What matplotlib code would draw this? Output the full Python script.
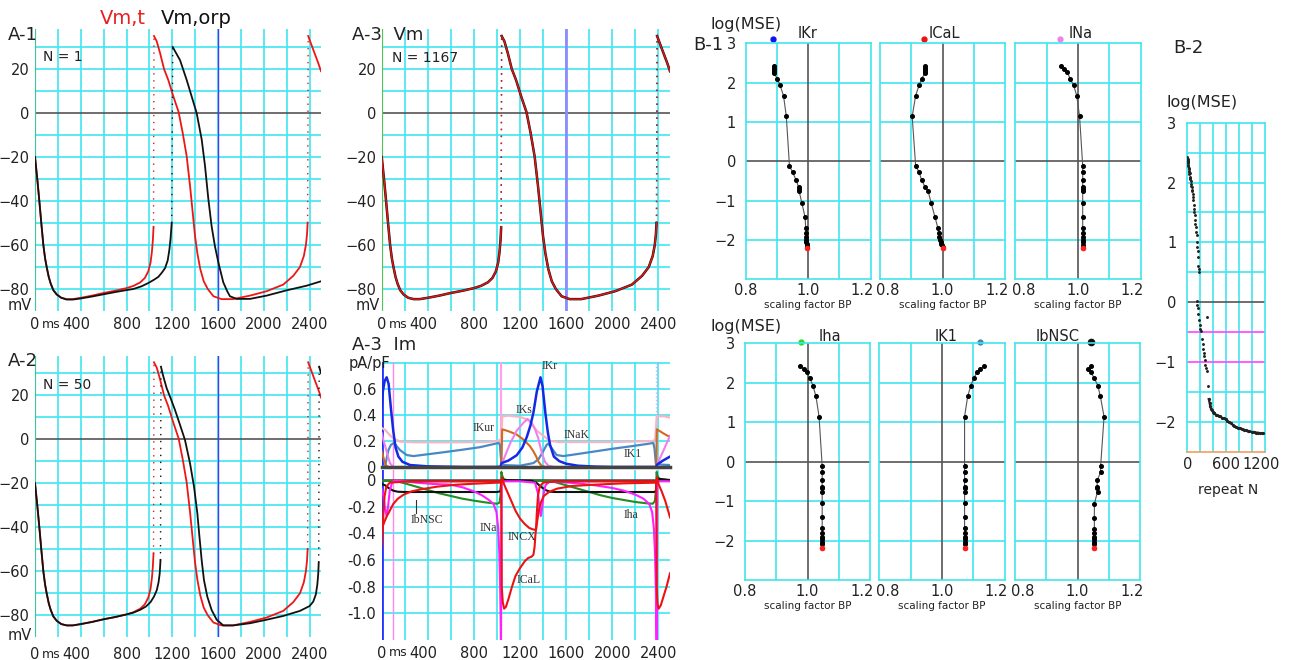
import matplotlib
matplotlib.use('Agg')
import matplotlib.pyplot as plt

plt.rcParams['font.family'] = ['DejaVu Sans']

# ---------------- A: membrane potential (ms, mV) ----------------
# target Vm,t (red) - same trace in A-1, A-2, A-3; pieces split at the upstrokes
vt_t1 = [0, 10, 20, 38, 55, 73, 88, 102, 120, 137, 160, 190, 230, 277, 330, 400, 500, 600, 700, 800, 860, 920, 960, 990, 1010, 1022, 1030, 1036]
vt_v1 = [-20, -25, -30, -40, -50, -60, -66, -70, -74.5, -77.5, -80.5, -82.5, -84, -84.6, -84.6, -84, -83, -81.8, -80.8, -79.6, -78.6, -77, -75, -72, -68, -63, -58, -52]
vt_t2 = [1040, 1064, 1093, 1128, 1165, 1209, 1255, 1291, 1326, 1355, 1378, 1399, 1420, 1445, 1475, 1510, 1560, 1630, 1730, 1880, 2025, 2170, 2258, 2316, 2350, 2368, 2378, 2383]
vt_v2 = [35, 32.6, 27.3, 20, 15, 7.6, 0.5, -9, -19.7, -33, -45, -56, -64, -71, -76.5, -80, -83.3, -84.6, -84.6, -83, -81, -78, -74, -70, -65, -60, -55, -50]
vt_t3 = [2388, 2432, 2476, 2500]
vt_v3 = [35, 28.8, 22.7, 19]

# model Vm,orp after N = 1 (black)
o1_t1 = [0, 10, 20, 38, 55, 73, 88, 102, 120, 137, 160, 190, 230, 277, 330, 400, 500, 600, 700, 800, 860, 930, 990, 1040, 1078, 1110, 1137, 1160, 1175, 1185, 1195]
o1_v1 = [-20, -25, -30, -40, -50, -60, -66, -70, -74.5, -77.5, -80.5, -82.5, -84, -84.8, -84.8, -84.3, -83.4, -82.4, -81.4, -80.5, -80, -78.8, -77.3, -75.8, -74.5, -72.5, -70.5, -67, -62, -57, -50]
o1_t2 = [1204, 1225, 1268, 1326, 1369, 1413, 1457, 1486, 1515, 1544, 1573, 1603, 1646, 1680, 1704, 1763, 1879, 2025, 2200, 2374, 2500]
o1_v2 = [30, 28, 24, 15, 7.6, 0, -12, -24, -39, -51.5, -60.6, -68, -77, -81, -83.3, -84.5, -84.5, -83, -80.6, -78.5, -76.5]

# model Vm,orp after N = 50 (black)
o50_t1 = [0, 10, 20, 38, 55, 73, 88, 102, 120, 137, 160, 190, 230, 277, 330, 400, 500, 600, 700, 800, 860, 920, 970, 1010, 1040, 1065, 1080, 1090, 1097]
o50_v1 = [-20, -25, -30, -40, -50, -60, -66, -70, -74.5, -77.5, -80.5, -82.5, -84, -84.6, -84.6, -84, -83, -81.8, -80.8, -79.6, -78.8, -77.5, -76, -74, -71.5, -68.5, -65, -61, -55]
o50_t2 = [1101, 1122, 1151, 1186, 1224, 1268, 1311, 1355, 1390, 1419, 1437, 1457, 1477, 1506, 1544, 1588, 1646, 1734, 1880, 2025, 2170, 2316, 2400, 2432, 2455, 2468, 2476, 2480]
o50_v2 = [33, 28.5, 23.2, 18.6, 13.3, 6.5, -0.3, -10.9, -21.5, -33.6, -44, -55, -64, -71.5, -77.6, -82, -84.6, -84.6, -83.6, -82, -80.3, -78, -75.8, -73.8, -70.5, -66, -61, -56]
o50_t3 = [2484, 2500]
o50_v3 = [33, 30]

# ---------------- A-3 Im: membrane currents (ms, pA/pF) ----------------
ikr_t = [0, 10, 25, 43, 60, 80, 100, 120, 145, 180, 246, 400, 700, 1030, 1040, 1100, 1170, 1220, 1258, 1290, 1316, 1345, 1377, 1395, 1420, 1440, 1460, 1493, 1540, 1600, 1700, 1850, 2000, 2378, 2390, 2440, 2500]
ikr_i = [0.46, 0.58, 0.66, 0.69, 0.64, 0.45, 0.28, 0.15, 0.08, 0.04, 0.015, 0.005, 0.0, 0.0, 0.03, 0.05, 0.09, 0.15, 0.23, 0.32, 0.42, 0.58, 0.69, 0.62, 0.41, 0.27, 0.17, 0.08, 0.045, 0.025, 0.01, 0.003, 0.0, 0.0, 0.02, 0.05, 0.08]
ik1_t = [0, 30, 58, 80, 107, 130, 159, 217, 275, 400, 550, 700, 850, 1014, 1025, 1033, 1040, 1200, 1315, 1360, 1400, 1430, 1445, 1470, 1517, 1575, 1700, 1850, 2000, 2150, 2300, 2356, 2366, 2378, 2500]
ik1_i = [0.0, 0.01, 0.13, 0.17, 0.185, 0.16, 0.13, 0.092, 0.084, 0.098, 0.115, 0.133, 0.152, 0.185, 0.17, 0.08, 0.015, 0.01, 0.03, 0.06, 0.12, 0.17, 0.18, 0.15, 0.092, 0.084, 0.1, 0.12, 0.14, 0.158, 0.177, 0.185, 0.14, 0.02, 0.015]
inak_t = [0, 30, 58, 100, 159, 300, 600, 900, 1010, 1035, 1046, 1100, 1202, 1250, 1290, 1344, 1402, 1459, 1550, 2000, 2356, 2372, 2385, 2450, 2500]
inak_i = [0.3, 0.285, 0.257, 0.22, 0.195, 0.19, 0.19, 0.192, 0.2, 0.215, 0.39, 0.395, 0.385, 0.37, 0.345, 0.28, 0.24, 0.2, 0.192, 0.192, 0.2, 0.215, 0.39, 0.39, 0.38]
iks_t = [0, 14, 30, 43, 58, 72, 100, 1000, 1040, 1055, 1113, 1171, 1229, 1265, 1300, 1330, 1358, 1388, 1416, 1445, 1500, 2380, 2399, 2450, 2500]
iks_i = [0.26, 0.21, 0.16, 0.12, 0.07, 0.03, 0.0, 0.0, 0.01, 0.053, 0.18, 0.28, 0.34, 0.37, 0.34, 0.29, 0.22, 0.11, 0.04, 0.01, 0.0, 0.0, 0.04, 0.14, 0.24]
ikur_t = [0, 10, 25, 40, 60, 1038, 1045, 1100, 1170, 1230, 1286, 1316, 1340, 1360, 1385, 1420, 2380, 2386, 2440, 2500]
ikur_i = [0.12, 0.09, 0.04, 0.01, 0.0, 0.0, 0.29, 0.275, 0.25, 0.21, 0.16, 0.12, 0.08, 0.04, 0.01, 0.0, 0.0, 0.29, 0.26, 0.23]

ical_t = [0, 8, 15, 25, 40, 70, 200, 1037, 1041, 1050, 1062, 1078, 1100, 1130, 1160, 1200, 1240, 1270, 1300, 1316, 1326, 1332, 1338, 1345, 1355, 1370, 1400, 1500, 2380, 2384, 2392, 2402, 2420, 2445, 2470, 2500]
ical_i = [-0.49, -0.38, -0.25, -0.12, -0.05, -0.02, -0.012, -0.01, -0.8, -0.92, -0.965, -0.95, -0.89, -0.8, -0.72, -0.66, -0.61, -0.585, -0.575, -0.56, -0.5, -0.42, -0.37, -0.25, -0.12, -0.05, -0.02, -0.012, -0.01, -0.8, -0.93, -0.965, -0.94, -0.87, -0.8, -0.7]
incx_t = [0, 12, 25, 45, 70, 100, 140, 190, 260, 340, 480, 650, 800, 1000, 1037, 1045, 1060, 1090, 1120, 1160, 1200, 1240, 1280, 1310, 1338, 1350, 1362, 1380, 1405, 1450, 1520, 1650, 1850, 2100, 2382, 2388, 2400, 2430, 2460, 2500]
incx_i = [-0.37, -0.34, -0.31, -0.27, -0.23, -0.18, -0.14, -0.11, -0.085, -0.07, -0.05, -0.035, -0.028, -0.02, -0.02, 0.02, -0.03, -0.09, -0.15, -0.23, -0.29, -0.33, -0.36, -0.37, -0.375, -0.3, -0.23, -0.17, -0.12, -0.09, -0.065, -0.045, -0.035, -0.025, -0.02, 0.02, -0.03, -0.09, -0.16, -0.28]
ina_t = [0, 15, 30, 43, 55, 70, 90, 110, 200, 300, 450, 600, 700, 800, 870, 930, 970, 995, 1010, 1020, 1028, 1034, 1040, 1200, 1330, 1355, 1370, 1380, 1392, 1405, 1420, 1450, 1550, 1700, 1850, 2000, 2100, 2200, 2270, 2320, 2345, 2360, 2370, 2378, 2384, 2390, 2500]
ina_i = [-0.07, -0.12, -0.22, -0.27, -0.2, -0.08, -0.02, -0.005, -0.01, -0.02, -0.03, -0.035, -0.055, -0.085, -0.115, -0.15, -0.18, -0.24, -0.36, -0.55, -0.85, -1.2, -0.01, -0.01, -0.02, -0.1, -0.22, -0.27, -0.2, -0.1, -0.04, -0.015, -0.015, -0.025, -0.04, -0.06, -0.08, -0.11, -0.14, -0.18, -0.24, -0.36, -0.55, -0.85, -1.2, -0.01, -0.01]
iha_t = [0, 120, 200, 300, 400, 500, 600, 700, 800, 900, 1000, 1022, 1032, 1038, 1046, 1060, 1100, 1440, 1500, 1600, 1700, 1800, 1900, 2000, 2100, 2200, 2300, 2350, 2368, 2378, 2384, 2392, 2410, 2500]
iha_i = [-0.005, -0.008, -0.025, -0.05, -0.075, -0.1, -0.12, -0.14, -0.155, -0.168, -0.178, -0.17, -0.1, 0.06, 0.03, 0.005, -0.003, -0.005, -0.015, -0.04, -0.065, -0.09, -0.115, -0.135, -0.15, -0.165, -0.175, -0.178, -0.16, -0.08, 0.06, 0.03, 0.005, -0.003]
ibnsc_t = [0, 30, 60, 100, 140, 200, 1000, 1030, 1037, 1045, 1060, 1300, 1340, 1380, 1420, 1460, 1500, 2360, 2378, 2385, 2395, 2500]
ibnsc_i = [-0.03, -0.04, -0.06, -0.08, -0.088, -0.09, -0.09, -0.085, -0.01, 0.01, 0.0, -0.005, -0.02, -0.05, -0.075, -0.088, -0.09, -0.09, -0.085, -0.01, 0.01, 0.0]

# ---------------- B-1: scaling factor vs log(MSE) ----------------
ikr_sf = [0.889, 0.889, 0.889, 0.889, 0.891, 0.901, 0.910, 0.921, 0.930, 0.940, 0.950, 0.961, 0.969, 0.970, 0.971, 0.980, 0.990, 0.992, 0.993, 0.993, 0.994, 0.994, 0.995, 0.995, 0.995]
ikr_mse = [2.43, 2.38, 2.33, 2.28, 2.24, 2.10, 1.93, 1.67, 1.14, -0.11, -0.28, -0.47, -0.65, -0.70, -0.76, -1.07, -1.42, -1.69, -1.83, -1.92, -2.0, -2.05, -2.1, -2.15, -2.21]
ical_sf = [0.945, 0.945, 0.945, 0.945, 0.944, 0.933, 0.925, 0.914, 0.903, 0.914, 0.925, 0.933, 0.944, 0.954, 0.964, 0.976, 0.985, 0.988, 0.990, 0.992, 0.994, 0.996, 0.998, 1.000, 1.003]
ical_mse = [2.43, 2.38, 2.33, 2.28, 2.24, 2.10, 1.93, 1.67, 1.14, -0.11, -0.28, -0.47, -0.65, -0.76, -1.07, -1.42, -1.69, -1.83, -1.92, -2.0, -2.06, -2.1, -2.14, -2.18, -2.21]
ina_sf = [0.945, 0.956, 0.966, 0.975, 0.986, 0.996, 1.005, 1.015, 1.015, 1.015, 1.015, 1.015, 1.015, 1.015, 1.015, 1.015, 1.015, 1.015, 1.015, 1.015, 1.015, 1.015]
ina_mse = [2.43, 2.34, 2.26, 2.10, 1.93, 1.67, 1.14, -0.11, -0.28, -0.47, -0.65, -0.70, -0.76, -1.07, -1.42, -1.69, -1.83, -1.92, -2.0, -2.06, -2.12, -2.21]
iha_sf = [0.976, 0.989, 0.997, 1.008, 1.017, 1.027, 1.037, 1.047, 1.047, 1.047, 1.047, 1.047, 1.047, 1.047, 1.047, 1.047, 1.047, 1.047, 1.047, 1.047, 1.047, 1.047]
iha_mse = [2.43, 2.34, 2.26, 2.11, 1.93, 1.66, 1.14, -0.11, -0.27, -0.47, -0.63, -0.68, -0.76, -1.06, -1.41, -1.69, -1.82, -1.9, -1.97, -2.04, -2.1, -2.2]
ik1_sf = [1.133, 1.122, 1.111, 1.101, 1.092, 1.082, 1.072, 1.072, 1.072, 1.072, 1.072, 1.072, 1.072, 1.072, 1.072, 1.072, 1.072, 1.072, 1.072, 1.072, 1.072, 1.072]
ik1_mse = [2.43, 2.34, 2.26, 2.11, 1.93, 1.66, 1.14, -0.11, -0.27, -0.47, -0.63, -0.68, -0.76, -1.06, -1.41, -1.69, -1.82, -1.9, -1.97, -2.04, -2.1, -2.2]
ibnsc_sf = [1.043, 1.033, 1.043, 1.054, 1.065, 1.073, 1.085, 1.074, 1.074, 1.063, 1.063, 1.063, 1.064, 1.054, 1.054, 1.054, 1.054, 1.054, 1.054, 1.054, 1.054, 1.054]
ibnsc_mse = [2.43, 2.34, 2.26, 2.11, 1.93, 1.66, 1.14, -0.11, -0.27, -0.47, -0.64, -0.68, -0.76, -1.07, -1.43, -1.71, -1.82, -1.9, -1.97, -2.04, -2.1, -2.2]
# initial value markers (scaling factor at start)
start_sf = {'IKr': 0.887, 'ICaL': 0.941, 'INa': 0.943, 'Iha': 0.978, 'IK1': 1.122, 'IbNSC': 1.042}

# ---------------- B-2: repeat N vs log(MSE) ----------------
b2_n = [2, 4, 6, 8, 10, 12, 14, 16, 19, 22, 25, 28, 31, 34, 38, 42, 46, 50, 55, 60, 66, 72, 78, 84, 90,
        95, 100, 104, 110, 115, 120, 126, 132, 138, 144, 150, 156, 160, 166, 172, 178, 185,
        148, 155, 160, 170, 180, 190, 200, 210, 300, 225, 235, 245, 255, 262, 270, 280, 290, 300, 313]
b2_v = [2.43, 2.40, 2.36, 2.38, 2.33, 2.30, 2.34, 2.27, 2.25, 2.22, 2.2, 2.17, 2.14, 2.16, 2.1, 2.06, 2.08, 2.02, 1.98, 1.95, 1.92, 1.88, 1.85, 1.80, 1.75,
        1.7, 1.62, 1.55, 1.5, 1.45, 1.38, 1.3, 1.25, 1.18, 1.12, 1.0, 0.92, 0.85, 0.76, 0.6, 0.55, 0.5,
        0.02, -0.05, -0.1, -0.2, -0.3, -0.38, -0.45, -0.48, -0.24, -0.62, -0.7, -0.78, -0.85, -0.9, -0.97, -1.05, -1.1, -1.15, -1.4]
b2_tail_n = [330, 343, 353, 365, 380, 395, 405, 420, 440, 460, 483, 505, 530, 561, 590, 613, 640, 670, 700, 717, 745, 780, 810, 840, 873, 900, 930, 960, 1000, 1030, 1060, 1090, 1120, 1150, 1167]
b2_tail_v = [-1.62, -1.68, -1.74, -1.78, -1.8, -1.83, -1.85, -1.86, -1.88, -1.89, -1.9, -1.91, -1.93, -1.94, -1.96, -1.98, -2.0, -2.02, -2.05, -2.07, -2.08, -2.1, -2.11, -2.12, -2.13, -2.14, -2.15, -2.16, -2.17, -2.17, -2.18, -2.18, -2.19, -2.19, -2.19]

# time axis labels (the "400" label sits a bit left, next to "0 ms")
t_tick_pos = [0, 365, 800, 1200, 1600, 2000, 2400]
t_tick_lab = ['0', '400', '800', '1200', '1600', '2000', '2400']

W, H = 1290, 660
GC = '#3FE6F0'
TXT = '#222222'
fig = plt.figure(figsize=(12.9, 6.6), dpi=100)


def box(l, t, r, b):
    return [l / W, 1 - b / H, (r - l) / W, (b - t) / H]


def ftext(x, y, s, **kw):
    kw.setdefault('color', TXT)
    fig.text(x / W, 1 - y / H, s, va='center', **kw)


def time_ticks(ax):
    ax.set_xticks(t_tick_pos)
    ax.set_xticklabels(t_tick_lab)


def vm_panel(rect, xpad, left_color):
    ax = fig.add_axes(box(*rect))
    ax.set_xlim(0, 2500)
    ax.set_ylim(-90, 38)
    for s in ax.spines.values():
        s.set_visible(False)
    for x in range(200, 2500, 200):
        ax.axvline(x, color=GC, lw=1.2, zorder=0)
    for y in range(-80, 31, 10):
        ax.axhline(y, color='#555555' if y == 0 else GC, lw=1.2, zorder=0)
    ax.axvline(0, color=left_color, lw=1.6, zorder=1)
    time_ticks(ax)
    ax.set_yticks(range(-80, 21, 20))
    ax.tick_params(length=0, labelsize=10.5, colors=TXT)
    ax.tick_params(axis='x', pad=xpad)
    ax.tick_params(axis='y', pad=4)
    return ax


def trace(ax, pieces, color, lw):
    for i, (t, v) in enumerate(pieces):
        ax.plot(t, v, color=color, lw=lw, zorder=3)
        if i + 1 < len(pieces):
            t2, v2 = pieces[i + 1]
            ax.plot([t[-1], t2[0]], [v[-1], v2[0]], color=color, lw=1, ls=(0, (1, 4)), zorder=3)


target = [(vt_t1, vt_v1), (vt_t2, vt_v2), (vt_t3, vt_v3)]
orp1 = [(o1_t1, o1_v1), (o1_t2, o1_v2)]
orp50 = [(o50_t1, o50_v1), (o50_t2, o50_v2), (o50_t3, o50_v3)]
orp1167 = target  # model coincides with the target after 1167 repeats

# A-1
ax = vm_panel((35, 29.4, 321, 311), 4, '#38C9A0')
ax.axvline(1600, color='#4040F0', lw=1, zorder=1)
trace(ax, target, '#F01515', 1.3)
trace(ax, orp1, '#111111', 1.3)
ftext(8, 35, 'A-1', fontsize=13)
ftext(100, 18, 'Vm,t', fontsize=14, color='#E82020')
ftext(161, 18, 'Vm,orp', fontsize=14, color='#111111')
ftext(43, 57, 'N = 1', fontsize=10)
ftext(8, 306, 'mV', fontsize=10.5)
ftext(42, 325, 'ms', fontsize=9)

# A-2
ax = vm_panel((35, 355.7, 321, 637.3), 7, '#38C9A0')
ax.axvline(1600, color='#4040F0', lw=1, zorder=1)
trace(ax, target, '#F01515', 1.3)
trace(ax, orp50, '#111111', 1.3)
ftext(8, 361, 'A-2', fontsize=13)
ftext(43, 385, 'N = 50', fontsize=10)
ftext(8, 635, 'mV', fontsize=10.5)
ftext(42, 654, 'ms', fontsize=9)

# A-3 Vm
ax = vm_panel((381.7, 29.4, 670, 311), 4, '#55C255')
ax.axvline(1600, color='#8C8CFF', lw=2, zorder=1)
trace(ax, orp1167, '#111111', 1.8)
trace(ax, target, '#E01515', 1.1)
ftext(352, 35, 'A-3  Vm', fontsize=13)
ftext(392, 58, 'N = 1167', fontsize=10)
ftext(356, 306, 'mV', fontsize=10.5)
ftext(389, 325, 'ms', fontsize=9)

# A-3 Im, outward (upper) and inward (lower) parts
ser = dict(family='Liberation Serif', fontsize=8.5, color='#333333')
axu = fig.add_axes(box(381.7, 361.7, 670, 467))
axl = fig.add_axes(box(381.7, 470, 670, 640))
axu.set_ylim(0, 0.81)
axl.set_ylim(-1.2, 0.075)
for a in (axu, axl):
    a.set_xlim(0, 2500)
    for s in a.spines.values():
        s.set_visible(False)
    for x in range(200, 2500, 200):
        a.axvline(x, color=GC, lw=1.2, zorder=0)
    a.axvline(0, color='#2233FF', lw=2, zorder=1)
    a.axvline(100, color='#FF88EE', lw=1, zorder=1)
    a.tick_params(length=0, labelsize=10.5, colors=TXT, pad=4)
for y in (0.2, 0.4, 0.6, 0.8):
    axu.axhline(y, color=GC, lw=1.2, zorder=0)
for y in (-0.2, -0.4, -0.6, -0.8, -1.0):
    axl.axhline(y, color=GC, lw=1.2, zorder=0)
axu.axvline(1035, color='#FFA0EE', lw=1.5, zorder=1)
axu.axvline(2380, color='#FFA0EE', lw=1, ls=':', zorder=1)
axl.axvline(1037, color='#FF60FF', lw=1, ls=':', zorder=1)
axl.axvline(2382, color='#FF60FF', lw=1, ls=':', zorder=1)
axu.axhline(0, color='#444444', lw=2.5, zorder=4, clip_on=False)
axl.axhline(0, color='#444444', lw=1.8, zorder=1)

axu.plot(inak_t, inak_i, color='#F8B4C2', lw=1.6, zorder=2)
axu.plot(ik1_t, ik1_i, color='#4A88C4', lw=1.6, zorder=2)
axu.plot(ikur_t, ikur_i, color='#D2691E', lw=1.5, zorder=2)
axu.plot(iks_t, iks_i, color='#EE80EE', lw=1.5, zorder=2)
axu.plot(ikr_t, ikr_i, color='#1428E6', lw=1.8, zorder=3)
axu.set_xticks([])
axu.set_yticks([0, 0.2, 0.4, 0.6])
axu.set_yticklabels(['0', '0.2', '0.4', '0.6'])
axu.text(1457, 0.78, 'IKr', ha='center', va='center', **ser)
axu.text(1232, 0.44, 'IKs', ha='center', va='center', **ser)
axu.text(884, 0.30, 'IKur', ha='center', va='center', **ser)
axu.text(1690, 0.25, 'INaK', ha='center', va='center', **ser)
axu.text(2175, 0.10, 'IK1', ha='center', va='center', **ser)

axl.plot(iha_t, iha_i, color='#228B22', lw=1.5, zorder=2)
axl.plot(ibnsc_t, ibnsc_i, color='#111111', lw=1.5, zorder=2)
axl.plot(ina_t, ina_i, color='#FF20FF', lw=1.5, zorder=2)
axl.plot(incx_t, incx_i, color='#EE1111', lw=1.5, zorder=3)
axl.plot(ical_t, ical_i, color='#EE1111', lw=1.5, zorder=3)
time_ticks(axl)
axl.set_yticks([0, -0.2, -0.4, -0.6, -0.8, -1.0])
axl.set_yticklabels(['0', '-0.2', '-0.4', '-0.6', '-0.8', '-1.0'])
axl.plot([300, 300], [-0.15, -0.25], color='#333333', lw=0.8)
axl.text(391, -0.3, 'IbNSC', ha='center', va='center', **ser)
axl.text(921, -0.36, 'INa', ha='center', va='center', **ser)
axl.text(1217, -0.43, 'INCX', ha='center', va='center', **ser)
axl.text(1275, -0.75, 'ICaL', ha='center', va='center', **ser)
axl.text(2165, -0.26, 'Iha', ha='center', va='center', **ser)
ftext(352, 345, 'A-3  Im', fontsize=13)
ftext(369, 363, 'pA/pF', fontsize=10.5, ha='center')
ftext(389, 653, 'ms', fontsize=9)


# B-1
def b1_panel(rect, sf, mse, name, tx, ty, dot_c, dot_ms, first):
    ax = fig.add_axes(box(*rect))
    ax.set_xlim(0.8, 1.2)
    ax.set_ylim(-3, 3)
    for s in ax.spines.values():
        s.set_color(GC)
        s.set_linewidth(1.2)
    for x in (0.9, 1.1):
        ax.axvline(x, color=GC, lw=1.2, zorder=0)
    for y in (-2, -1, 1, 2):
        ax.axhline(y, color=GC, lw=1.2, zorder=0)
    ax.axvline(1.0, color='#555555', lw=1.2, zorder=1)
    ax.axhline(0, color='#555555', lw=1.2, zorder=1)
    ax.plot(sf, mse, color='#555555', lw=0.8, marker='o', ms=2.6, mfc='black', mec='black', zorder=3)
    ax.plot(sf[-1], mse[-1], 'o', color='#FF2020', ms=3, zorder=4)
    ax.plot(start_sf[name], ty - 0.14, 'o', color=dot_c, ms=dot_ms, clip_on=False)
    ax.text(tx, ty, name, ha='center', va='center', fontsize=10.5, color=TXT, clip_on=False)
    ax.set_xticks([0.8 if first else 0.826, 1.0, 1.174])
    ax.set_xticklabels(['0.8', '1.0', '1.2'])
    if first:
        ax.set_yticks([-2, -1, 0, 1, 2, 3])
    else:
        ax.set_yticks([])
    ax.tick_params(length=0, labelsize=10.5, colors=TXT, pad=3)
    ax.tick_params(axis='y', pad=7)
    cx = (rect[0] + rect[2]) / 2
    ftext(cx, rect[3] + 26, 'scaling factor BP', fontsize=7.5, ha='center')


b1_panel((745.7, 43.3, 870.7, 279.3), ikr_sf, ikr_mse, 'IKr', 0.999, 3.25, '#1010F0', 3.5, True)
b1_panel((880, 43.3, 1005, 279.3), ical_sf, ical_mse, 'ICaL', 1.006, 3.25, '#F01010', 3.5, False)
b1_panel((1015.3, 43.3, 1140.7, 279.3), ina_sf, ina_mse, 'INa', 1.007, 3.25, '#EE82EE', 3.5, False)
b1_panel((745, 343.3, 870, 580), iha_sf, iha_mse, 'Iha', 1.072, 3.17, '#22DD22', 3.5, True)
b1_panel((879.3, 343.3, 1004.7, 580), ik1_sf, ik1_mse, 'IK1', 1.013, 3.17, '#4682B4', 3.5, False)
b1_panel((1015, 343.3, 1140, 580), ibnsc_sf, ibnsc_mse, 'IbNSC', 0.938, 3.17, '#111111', 4.5, False)
ftext(746, 25, 'log(MSE)', fontsize=11.5, ha='center')
ftext(746, 326, 'log(MSE)', fontsize=11.5, ha='center')
ftext(708, 45, 'B-1', fontsize=13, ha='center')

# B-2
ax = fig.add_axes(box(1187.3, 122.7, 1265, 451.7))
ax.set_xlim(0, 1200)
ax.set_ylim(-2.5, 3)
for s in ax.spines.values():
    s.set_color(GC)
    s.set_linewidth(1.2)
ax.spines['bottom'].set_color('#F0A060')
for x in range(200, 1200, 200):
    ax.axvline(x, color=GC, lw=1.2, zorder=0)
for y in (-2, -1.5, 0.5, 1, 1.5, 2, 2.5):
    ax.axhline(y, color=GC, lw=1.2, zorder=0)
ax.axhline(0, color='#555555', lw=1.2, zorder=1)
ax.axhline(-0.5, color='#FF44FF', lw=1.2, zorder=1)
ax.axhline(-1.0, color='#FF44FF', lw=1.2, zorder=1)
ax.plot(b2_n, b2_v, 'o', color='#222222', ms=1.1, zorder=3)
ax.plot(b2_tail_n, b2_tail_v, color='#222222', lw=1.5, marker='o', ms=1.3, zorder=3)
ax.set_xticks([0, 600, 1140])
ax.set_xticklabels(['0', '600', '1200'])
ax.set_yticks([-2, -1, 0, 1, 2, 3])
ax.tick_params(length=0, labelsize=10.5, colors=TXT, pad=4)
ax.tick_params(axis='y', pad=8)
ftext(1228, 490, 'repeat N', fontsize=10, ha='center')
ftext(1202, 103, 'log(MSE)', fontsize=11.5, ha='center')
ftext(1188, 48, 'B-2', fontsize=13, ha='center')

fig.savefig('out.png', dpi=100, facecolor='white')
